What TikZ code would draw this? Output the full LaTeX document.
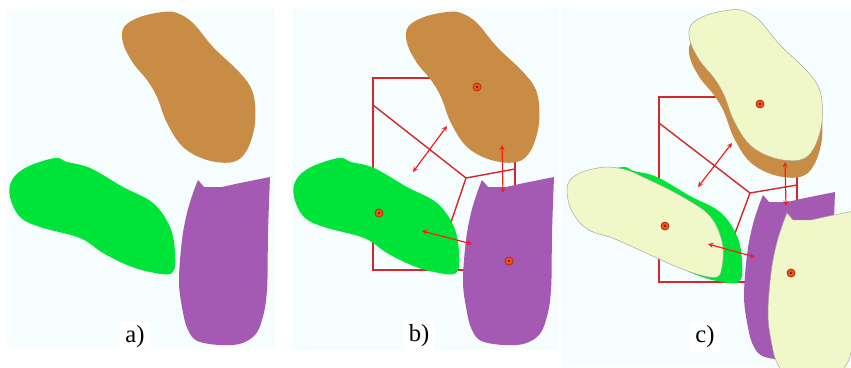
\documentclass[tikz,border=0pt]{standalone}
\usepackage{fontspec}
\setmainfont{Liberation Serif}
\definecolor{bgc}{RGB}{246,253,254}
\definecolor{brn}{RGB}{201,140,69}
\definecolor{grn}{RGB}{0,228,58}
\definecolor{prp}{RGB}{164,90,178}
\definecolor{pale}{RGB}{240,247,200}
\definecolor{paled}{RGB}{165,165,150}
\definecolor{vor}{RGB}{212,40,40}
\definecolor{arr}{RGB}{250,25,25}
\definecolor{dotc}{RGB}{245,80,20}
\definecolor{dotd}{RGB}{150,40,20}
% cell outlines, drawn in panel a coordinates
\newcommand\brownblob{plot[smooth cycle,tension=.6] coordinates{(163,12)(177,13)(193,23)(213,47)(240,73)(253,93)(255,123)(247,150)(233,162)(207,160)(183,147)(167,123)(157,97)(147,80)(133,63)(123,43)(124,27)(140,17)}}
\newcommand\greenblob{plot[smooth cycle,tension=.6] coordinates{(55,158)(67,162)(90,168)(123,187)(153,203)(170,227)(175,253)(172,273)(150,272)(127,265)(103,253)(80,238)(40,227)(20,217)(10,197)(12,180)(27,167)}}
\newcommand\purpleblob{(198,180)--(204,187)--(222,187)--(240,183)--(270,177)--plot[smooth,tension=.6] coordinates{(270,177)(268,233)(267,290)(262,320)(253,337)(233,345)(200,342)(188,330)(182,307)(179,280)(182,240)(187,213)(193,193)(198,180)}--cycle}
\tikzset{
  vline/.style={draw=vor,line width=1.2pt},
  dbl/.style={<->,draw=arr,line width=1pt},
  site/.style={circle,fill=dotc,draw=dotd,line width=.5pt,minimum size=7pt,inner sep=0pt,
    path picture={\fill[black] (path picture bounding box.center) circle (.8pt);}},
  tag/.style={fill=white,inner xsep=5pt,inner ysep=3pt,font=\fontsize{21}{24}\selectfont},
  paleblob/.style={fill=pale,draw=paled,line width=.4pt}
}
\begin{document}
\begin{tikzpicture}[x=.03cm,y=-.03cm,>=stealth]
\useasboundingbox[fill=white] (0,0) rectangle (851,367);
\clip (0,0) rectangle (851,367);
\foreach \l/\t/\r/\b in {7/9/275/347,292/8/558/350,562/8/851/367}{\fill[bgc] (\l,\t) rectangle (\r,\b);}
% cells under the blobs
\draw[vline] (373,78) rectangle (515,270);
\coordinate (vb) at (466,178);
\draw[vline] (373,105)--(vb)--(515,169) (vb)--(445,240);
\draw[vline] (659,97) rectangle (797,282);
\coordinate (vc) at (750,193);
\draw[vline] (659,123)--(vc)--(797,185) (vc)--(728,252);
% a) and b)
\foreach \s in {0,284}{
\fill[brn,shift={(\s,0)}] \brownblob;
\fill[grn,shift={(\s,0)}] \greenblob;
\fill[prp,shift={(\s,0)}] \purpleblob;}
% c)
\fill[brn,shift={(567,15)}] \brownblob;
\path[paleblob,shift={(567,-2)}] \brownblob;
\fill[grn,shift={(567,9)}] \greenblob;
\path[paleblob] plot[smooth cycle,tension=.6] coordinates{(567,190)(570,180)(580,173)(593,169)(608,167)(627,170)(643,177)(670,190)(693,203)(707,213)(717,227)(723,247)(722,267)(717,277)(700,275)(677,267)(657,258)(633,247)(610,237)(593,232)(580,223)(570,207)};
\fill[prp,shift={(565,15)}] \purpleblob;
\path[paleblob,shift={(589,33)}] \purpleblob;
% centres
\node[site] (sb1) at (477,87) {};
\node[site] (sb2) at (379,213) {};
\node[site] (sb3) at (509,261) {};
\node[site] (sc1) at (760,104) {};
\node[site] (sc2) at (665,226) {};
\node[site] (sc3) at (791,273) {};
% moves
\foreach \n/\x/\y in {b1/413/172,b2/447/126,b3/502/145,b4/503/193,b5/422/231,b6/472/244,
  c1/698/187,c2/732/143,c3/785/162,c4/786/206,c5/708/244,c6/755/257}{\coordinate (m\n) at (\x,\y);}
\draw[dbl] (mb1)--(mb2); \draw[dbl] (mb3)--(mb4); \draw[dbl] (mb5)--(mb6);
\draw[dbl] (mc1)--(mc2); \draw[dbl] (mc3)--(mc4); \draw[dbl] (mc5)--(mc6);
\node[tag] (la) at (135,337) {a)};
\node[tag] (lb) at (419,336) {b)};
\node[tag] (lc) at (705,337) {c)};
\end{tikzpicture}
\end{document}
